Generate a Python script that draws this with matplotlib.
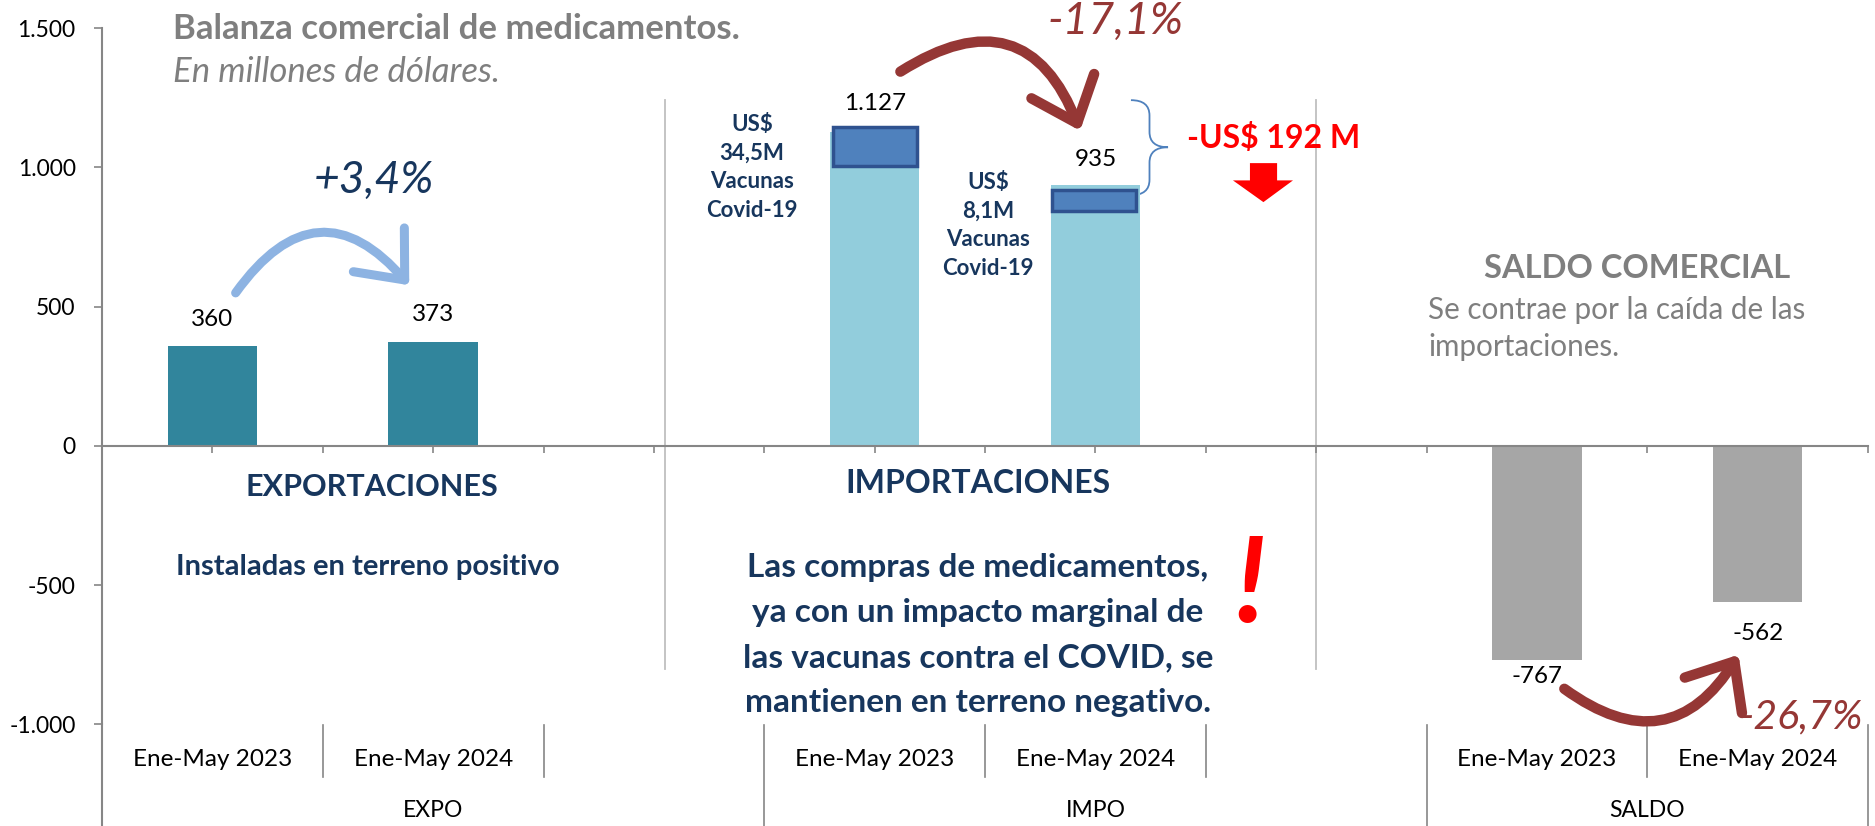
import numpy as np
import matplotlib
matplotlib.use('Agg')
import matplotlib.pyplot as plt
from matplotlib.patches import Rectangle, Polygon, FancyArrowPatch, PathPatch
from matplotlib.path import Path

plt.rcParams['font.family'] = ['Lato', 'DejaVu Sans']

# datos (millones de US$)
groups = ['EXPO', 'IMPO', 'SALDO']
periods = ['Ene-May 2023', 'Ene-May 2024']
expo = [360, 373]
impo = [1127, 935]
saldo = [-767, -562]
vacunas = [34.5, 8.1]
yticks = [1500, 1000, 500, 0, -500, -1000]

group_start = [0, 3, 6]          # slot of first period of each group
bar_colors = ['#31859c', '#92cddc', '#a6a6a6']
label_offsets = [[19, 19.5], [20.5, 18.5], [-12.5, -22]]

NAVY = '#17365d'
GRAY = '#7f7f7f'
DRED = '#953735'
AXC = '#868686'


def fmt(v):
    return f"{v:,}".replace(',', '.')


def draw_brace(ax, x0, x1, ytop, ybot, ymid, h, color):
    xm = (x0 + x1) / 2
    verts = [(x0, ytop), (xm, ytop), (xm, ytop - h),
             (xm, ymid + h), (xm, ymid), (x1, ymid),
             (xm, ymid), (xm, ymid - h),
             (xm, ybot + h), (xm, ybot), (x0, ybot)]
    codes = [Path.MOVETO, Path.CURVE3, Path.CURVE3,
             Path.LINETO, Path.CURVE3, Path.CURVE3,
             Path.CURVE3, Path.CURVE3,
             Path.LINETO, Path.CURVE3, Path.CURVE3]
    ax.add_patch(PathPatch(Path(verts, codes), fill=False, edgecolor=color,
                           lw=1.3, clip_on=False))


def main():
    fig = plt.figure(figsize=(18.75, 8.26), dpi=100)
    ax = fig.add_axes([0.0544, 0.1229, 0.9419, 0.8432])
    ax.set_xlim(-0.5, 7.5)
    ax.set_ylim(-1000, 1500)

    series = [expo, impo, saldo]
    for g, vals in enumerate(series):
        xs = [group_start[g] + i for i in range(len(vals))]
        ax.bar(xs, vals, width=0.405, color=bar_colors[g], zorder=2)
        for x, v, off in zip(xs, vals, label_offsets[g]):
            ax.annotate(fmt(v), (x, v), xytext=(0, off), textcoords='offset points',
                        ha='center', va='center', fontsize=17.5, color='black')

    # axes styling
    for s in ['top', 'right']:
        ax.spines[s].set_visible(False)
    ax.spines['left'].set_color(AXC)
    ax.spines['left'].set_linewidth(1.5)
    ax.spines['bottom'].set_position(('data', 0))
    ax.spines['bottom'].set_color(AXC)
    ax.spines['bottom'].set_linewidth(1.5)
    ax.set_yticks(yticks)
    ax.set_yticklabels([fmt(v) for v in yticks], fontsize=16.5)
    ax.tick_params(axis='y', length=6, width=1.2, color=AXC, pad=13)
    ax.set_xticks(np.arange(-0.5, 7.51, 0.5))
    ax.set_xticklabels([])
    ax.tick_params(axis='x', length=5, width=1.2, color=AXC, direction='out')

    # multi-level category axis below the plot
    ybot = -1364
    ax.plot([-0.5, -0.5], [-1000, ybot], color=AXC, lw=1.5, clip_on=False)
    for xb in [0.5, 1.5, 3.5, 4.5, 6.5]:
        ax.plot([xb, xb], [-1002, -1187], color=AXC, lw=1.2, clip_on=False)
    for xb in [2.5, 5.5, 7.5]:
        ax.plot([xb, xb], [-1002, ybot], color=AXC, lw=1.2, clip_on=False)
    for g, name in enumerate(groups):
        for i, p in enumerate(periods):
            ax.text(group_start[g] + i, -1124, p, ha='center', va='center',
                    fontsize=17.5, clip_on=False)
        gc = group_start[g] + (1.0 if g < 2 else 0.5)
        ax.text(gc, -1308, name, ha='center', va='center', fontsize=16.5, clip_on=False)

    # light separators between panels
    for xs_ in [2.05, 5.0]:
        ax.plot([xs_, xs_], [1241, -801], color='#bfbfbf', lw=1.3, zorder=1)

    # titles
    ax.text(-0.18, 1459, 'Balanza comercial de medicamentos.', fontsize=25,
            fontweight='bold', color=GRAY, va='baseline', ha='left', clip_on=False)
    ax.text(-0.18, 1306, 'En millones de dólares.', fontsize=25, fontstyle='italic',
            color=GRAY, va='baseline', ha='left')

    # vaccine boxes
    ax.add_patch(Rectangle((2.81, 1003), 0.38, 141, facecolor='#4f81bd',
                           edgecolor='#2f528f', lw=2.5, zorder=3))
    ax.add_patch(Rectangle((3.805, 842), 0.378, 76, facecolor='#4f81bd',
                           edgecolor='#2f528f', lw=2.5, zorder=3))
    ax.text(2.444, 1000, f"US$\n{str(vacunas[0]).replace('.', ',')}M\nVacunas\nCovid-19",
            ha='center', va='center', fontsize=16, fontweight='bold', color=NAVY,
            linespacing=1.45)
    ax.text(3.514, 792, f"US$\n{str(vacunas[1]).replace('.', ',')}M\nVacunas\nCovid-19",
            ha='center', va='center', fontsize=16, fontweight='bold', color=NAVY,
            linespacing=1.45)

    draw_brace(ax, 4.161, 4.329, 1241, 900, 1072, 55, '#4f81bd')
    ax.text(4.807, 1104, '-US$ 192 M', ha='center', va='center', fontsize=23,
            fontweight='bold', color='#ff0000')
    ax.add_patch(Polygon([(4.70, 1015), (4.823, 1015), (4.823, 953), (4.895, 953),
                          (4.761, 875), (4.623, 953), (4.70, 953)],
                         closed=True, facecolor='#ff0000', edgecolor='none'))

    # variations
    ax.text(0.73, 953, '+3,4%', ha='center', va='center', fontsize=32,
            fontstyle='italic', color=NAVY)
    ax.text(4.089, 1522, '-17,1%', ha='center', va='center', fontsize=32,
            fontstyle='italic', color=DRED, clip_on=False)
    ax.text(7.20, -974, '-26,7%', ha='center', va='center', fontsize=29.5,
            fontstyle='italic', color=DRED, clip_on=False)

    arrows = [((0.098, 541), (0.900, 569), -0.65, '#8db3e2', 6.5),
              ((3.106, 1338), (3.935, 1122), -0.62, DRED, 7.5),
              ((6.114, -866), (6.92, -741), 0.55, DRED, 7.5)]
    for a, b, rad, c, lw in arrows:
        ax.add_patch(FancyArrowPatch(a, b, connectionstyle=f'arc3,rad={rad}',
                                     arrowstyle='->,head_length=1.3,head_width=1.1',
                                     mutation_scale=22, color=c, lw=lw,
                                     capstyle='round', clip_on=False, zorder=4))

    # section texts
    ax.text(6.454, 638, 'SALDO COMERCIAL', ha='center', va='center', fontsize=23.5,
            fontweight='bold', color=GRAY)
    ax.text(5.507, 487, 'Se contrae por la caída de las', ha='left', va='center',
            fontsize=21.3, color=GRAY)
    ax.text(5.507, 354, 'importaciones.', ha='left', va='center',
            fontsize=21.3, color=GRAY)
    ax.text(0.723, -148, 'EXPORTACIONES', ha='center', va='center', fontsize=22,
            fontweight='bold', color=NAVY)
    ax.text(0.705, -436, 'Instaladas en terreno positivo', ha='center', va='center',
            fontsize=21, fontweight='bold', color=NAVY)
    ax.text(3.468, -134, 'IMPORTACIONES', ha='center', va='center', fontsize=23,
            fontweight='bold', color=NAVY)
    para = ['Las compras de medicamentos,', 'ya con un impacto marginal de',
            'las vacunas contra el COVID, se', 'mantienen en terreno negativo.']
    for line, yy in zip(para, [-436, -597, -759, -920]):
        ax.text(3.468, yy, line, ha='center', va='center', fontsize=24,
                fontweight='bold', color=NAVY)
    ax.text(4.70, -511, '!', ha='center', va='center', fontsize=85,
            fontweight='bold', fontstyle='italic', color='#ff0000')

    fig.savefig('out.png', dpi=100)


if __name__ == "__main__":
    main()
